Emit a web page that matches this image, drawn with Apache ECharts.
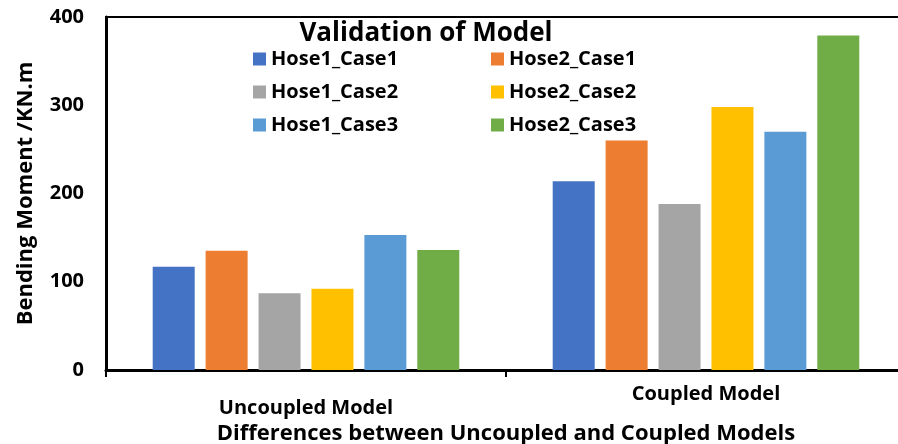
<!DOCTYPE html>
<html>
<head>
<meta charset="utf-8">
<script src="https://cdn.jsdelivr.net/npm/echarts@6/dist/echarts.min.js"></script>
<style>
  html, body { margin: 0; padding: 0; background: #fff; }
  #chart { width: 898px; height: 444px; }
</style>
</head>
<body>
<div id="chart"></div>
<script>
// data
const categories = ['Uncoupled Model', 'Coupled Model']
const seriesNames = ['Hose1_Case1', 'Hose2_Case1', 'Hose1_Case2', 'Hose2_Case2', 'Hose1_Case3', 'Hose2_Case3']
const hose1Case1 = [117, 214]
const hose2Case1 = [135, 260]
const hose1Case2 = [87, 188]
const hose2Case2 = [92, 298]
const hose1Case3 = [153, 270]
const hose2Case3 = [136, 379]
const yTicks = [0, 100, 200, 300, 400]

const colors = ['#4472C4', '#ED7D31', '#A5A5A5', '#FFC000', '#5B9BD5', '#70AD47']
const values = [hose1Case1, hose2Case1, hose1Case2, hose2Case2, hose1Case3, hose2Case3]
const font = '"Open Sans", sans-serif'

const chart = echarts.init(document.getElementById('chart'))

// legend in two columns, like the original
const legendText = { fontFamily: font, fontWeight: 'bold', fontSize: 20, color: '#000', lineHeight: 24 }
const makeLegend = (names, left) => ({
  data: names,
  orient: 'vertical',
  left: left,
  top: 42,
  icon: 'rect',
  itemWidth: 13,
  itemHeight: 13,
  itemGap: 9,
  textStyle: legendText
})

const option = {
  animation: false,
  title: {
    text: 'Validation of Model',
    left: 421,
    top: 16,
    textAlign: 'center',
    textStyle: { fontFamily: font, fontWeight: 'bold', fontSize: 26, color: '#000' }
  },
  legend: [
    makeLegend([seriesNames[0], seriesNames[2], seriesNames[4]], 248),
    makeLegend([seriesNames[1], seriesNames[3], seriesNames[5]], 486)
  ],
  grid: {
    left: 106,
    right: -8,
    top: 17,
    bottom: 74,
    outerBoundsMode: 'none',
    containLabel: false,
    show: true,
    borderColor: '#000',
    borderWidth: 2
  },
  xAxis: {
    type: 'category',
    data: [
      { value: categories[0], textStyle: { padding: [14, 0, 0, 0] } },
      { value: categories[1] }
    ],
    axisLine: { lineStyle: { color: '#000', width: 3 } },
    axisTick: { show: true, length: 7, lineStyle: { color: '#000', width: 2 } },
    axisLabel: { fontFamily: font, fontWeight: 'bold', fontSize: 20, color: '#000', margin: 14 },
    name: 'Differences between Uncoupled and Coupled Models',
    nameLocation: 'middle',
    nameGap: 49,
    nameTextStyle: { fontFamily: font, fontWeight: 'bold', fontSize: 22, color: '#000' }
  },
  yAxis: {
    type: 'value',
    min: yTicks[0],
    max: yTicks[yTicks.length - 1],
    interval: 100,
    splitLine: { show: false },
    axisLine: { show: true, lineStyle: { color: '#000', width: 3 } },
    axisTick: { show: false },
    axisLabel: { fontFamily: font, fontWeight: 'bold', fontSize: 20, color: '#000', margin: 22 },
    name: 'Bending Moment /KN.m',
    nameLocation: 'middle',
    nameGap: 69,
    nameTextStyle: { fontFamily: font, fontWeight: 'bold', fontSize: 22, color: '#000' }
  },
  series: seriesNames.map((name, i) => ({
    name: name,
    type: 'bar',
    data: values[i],
    barWidth: 42,
    barGap: '26%',
    itemStyle: { color: colors[i] }
  }))
}

chart.setOption(option)
</script>
</body>
</html>
